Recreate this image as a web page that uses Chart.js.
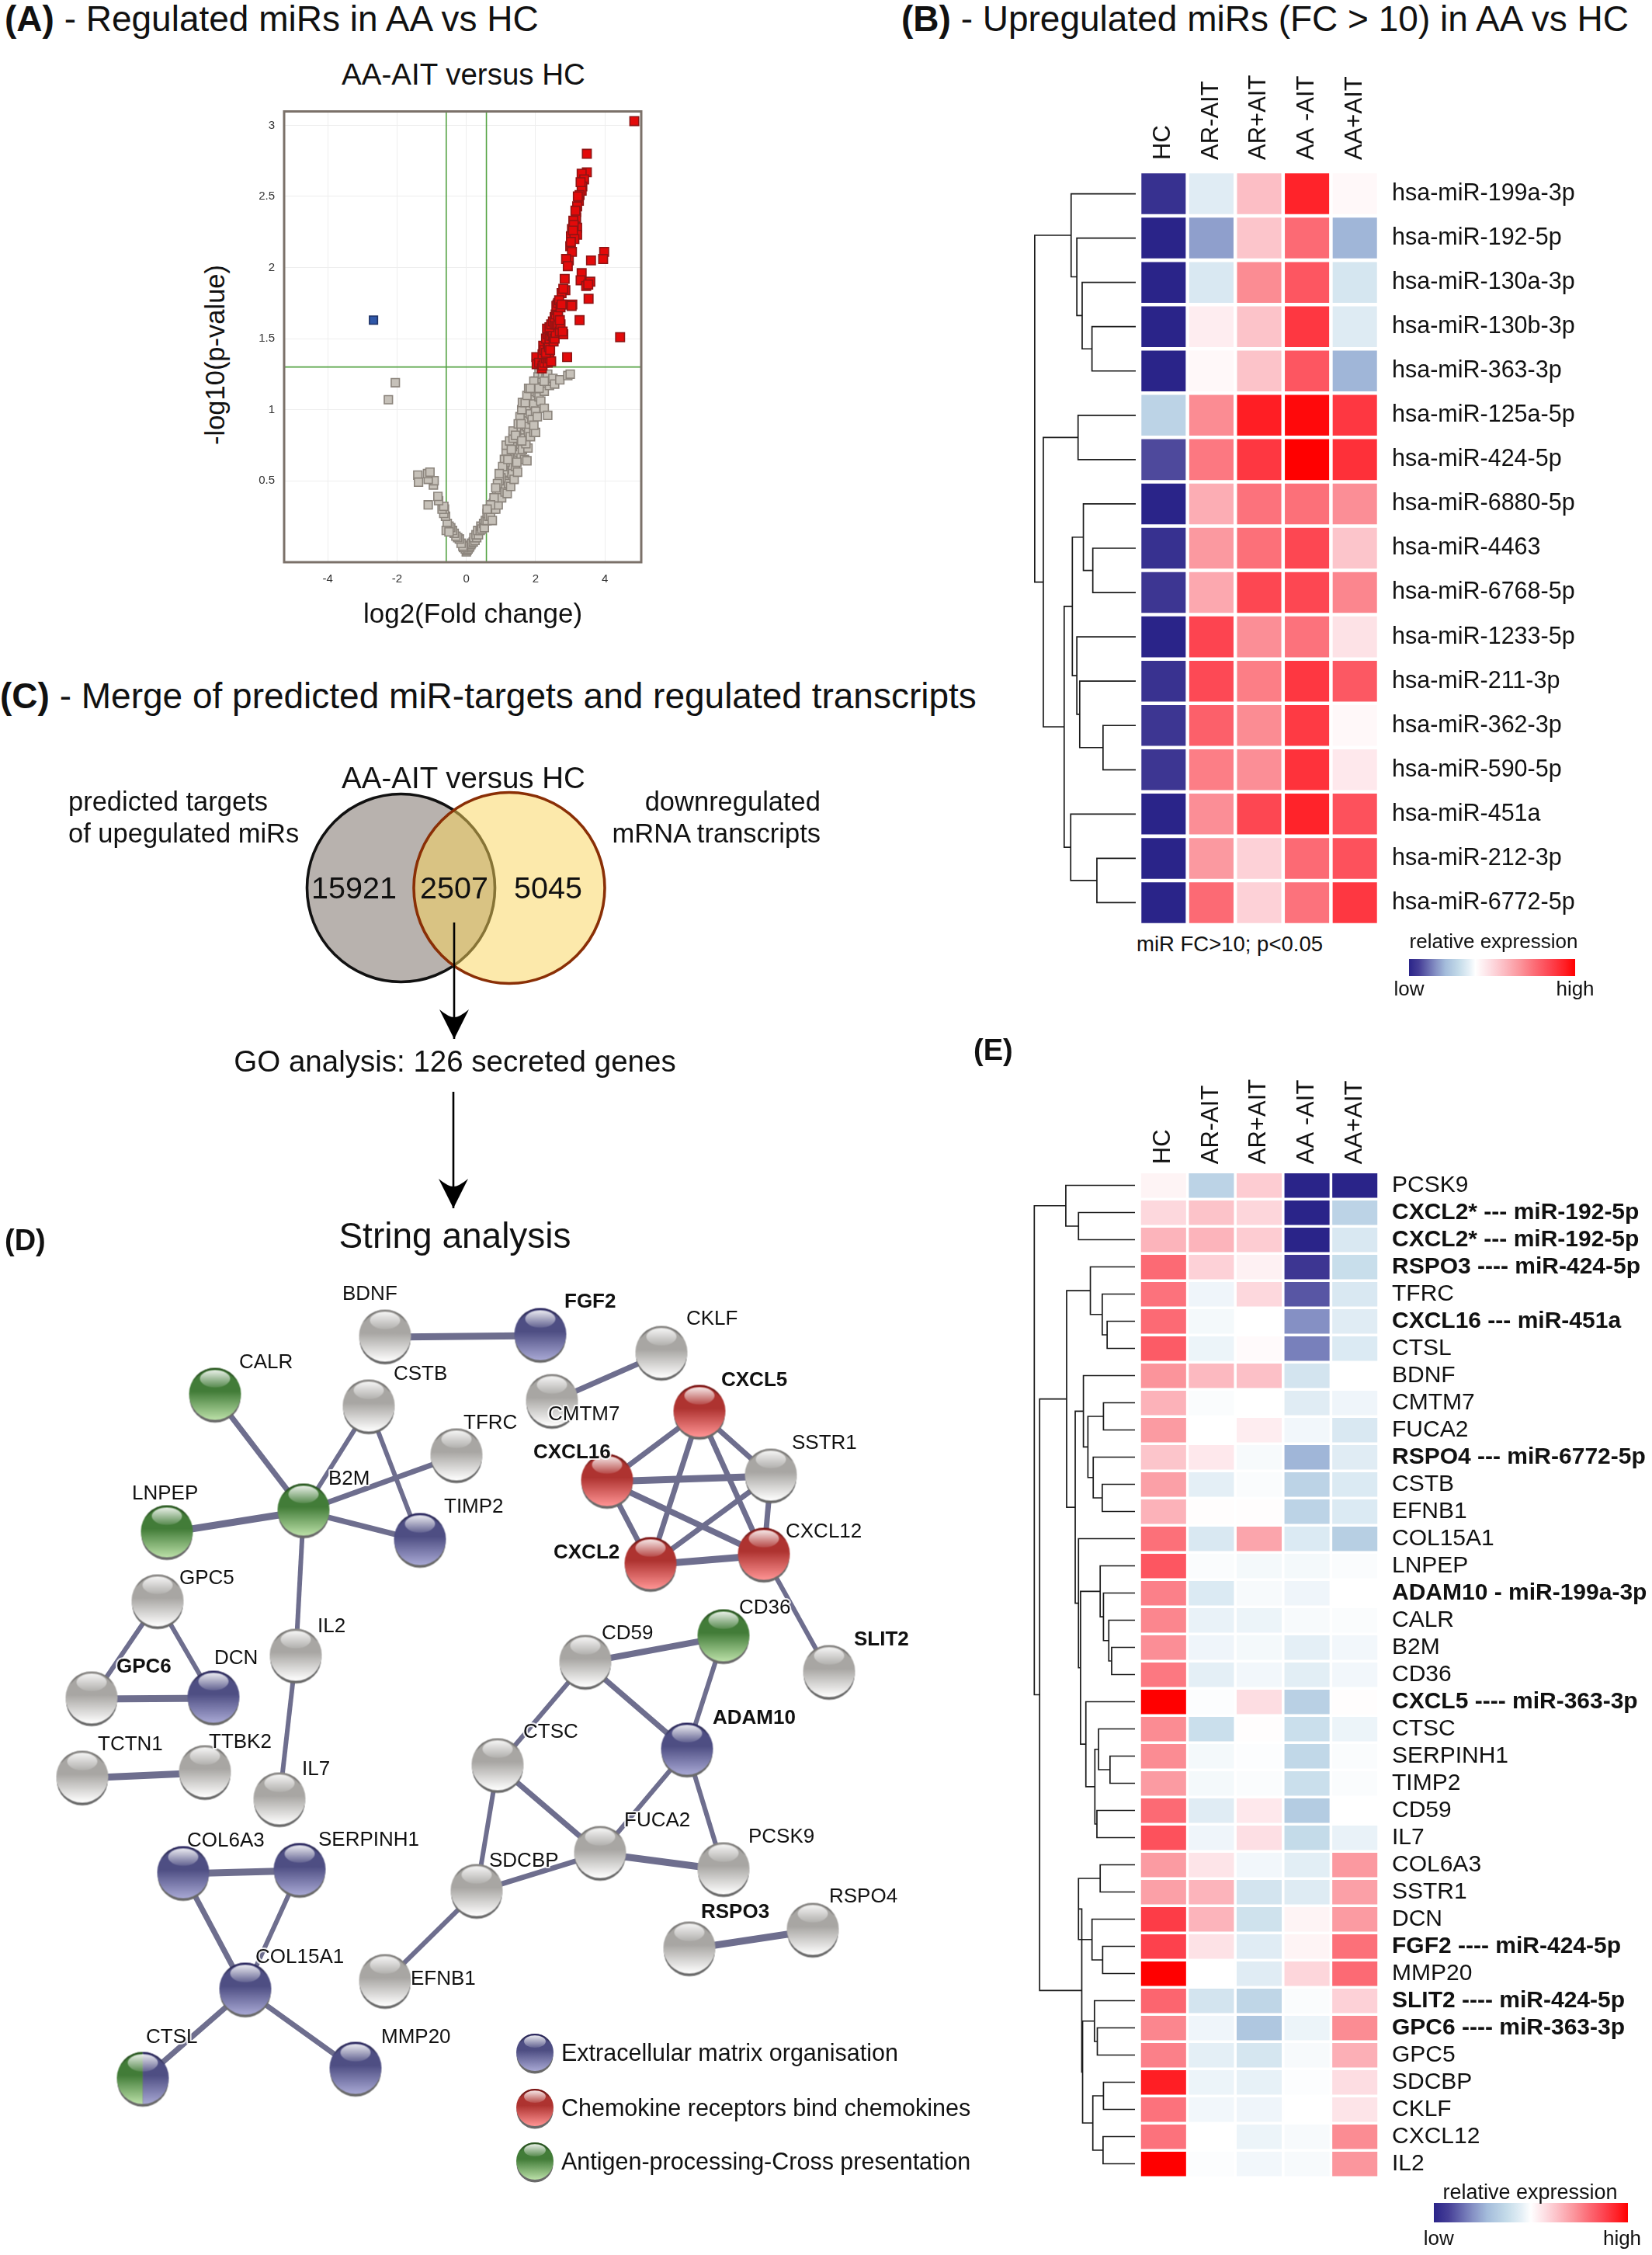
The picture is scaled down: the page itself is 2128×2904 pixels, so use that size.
<!DOCTYPE html>
<html>
<head>
<meta charset="utf-8">
<script src="https://cdn.jsdelivr.net/npm/chart.js@4"></script>
<style>
  html, body { margin: 0; background: #fff; }
  #page { position: relative; width: 2128px; height: 2904px; overflow: hidden; font-family: "Liberation Sans", Arial, sans-serif; color: #111; }
  #page canvas { position: absolute; }
  .txt { position: absolute; white-space: nowrap; line-height: 1; }
</style>
</head>
<body>
<div id="page"></div>
<script>
// ---- panel A: volcano plot, [log2 fold change, -log10 p]
const volcanoXTicks = [-4, -2, 0, 2, 4];
const volcanoYTicks = [0.5, 1, 1.5, 2, 2.5, 3];
const cutoffFold = [-0.58, 0.58];
const cutoffP = 1.3;
const downMirs = [[-2.68, 1.63]];
const upMirs = [
  [4.85,3.03],[3.48,2.80],[3.48,2.67],[3.33,2.66],[3.4,2.62],[3.35,2.57],[3.33,2.54],[3.27,2.51],[3.25,2.47],[3.2,2.43],
  [3.17,2.39],[3.17,2.35],[3.09,2.33],[3.05,2.27],[3.2,2.28],[3.2,2.23],[3.02,2.22],[3.0,2.15],[3.05,2.11],[2.96,2.05],
  [2.88,2.06],[2.93,2.01],[3.98,2.11],[3.95,2.06],[3.6,2.05],[3.33,1.96],[3.3,1.91],[3.58,1.90],[3.46,1.87],[3.52,1.88],
  [3.53,1.78],[2.84,1.92],[2.86,1.84],[2.75,1.82],[3.06,1.74],[3.04,1.73],[2.78,1.74],[2.63,1.74],[3.27,1.63],[4.44,1.51],
  [2.91,1.37],[2.02,1.37],[2.03,1.32],[2.1,1.33],[2.18,1.29],[2.2,1.31],[2.25,1.33],[2.3,1.36],[2.35,1.33],[2.4,1.36],
  [2.45,1.34],[2.2,1.39],[2.22,1.45],[2.25,1.42],[2.3,1.4],[2.35,1.47],[2.38,1.44],[2.42,1.42],[2.3,1.5],[2.35,1.53],
  [2.33,1.57],[2.4,1.5],[2.45,1.52],[2.47,1.55],[2.5,1.52],[2.52,1.48],[2.55,1.5],[2.58,1.54],[2.4,1.58],[2.45,1.6],
  [2.5,1.62],[2.55,1.6],[2.6,1.6],[2.65,1.6],[2.7,1.55],[2.72,1.6],[2.8,1.53],[2.78,1.55],[2.55,1.65],[2.58,1.67],
  [2.62,1.7],[2.65,1.66],[2.7,1.63],[2.6,1.73],[2.65,1.75],[2.68,1.77],[2.72,1.72],[2.75,1.74],[2.8,1.85],[3.1,2.3],
  [3.08,2.26],[3.12,2.2],[3.02,2.18],[3.15,2.4],[3.22,2.5],[3.3,2.6]
];
const otherMirs = [
  [0,0],[0.02,0.01],[-0.03,0.02],[0.05,0.02],[0.08,0.03],[0.1,0.04],[0.13,0.05],[0.15,0.06],[0.2,0.07],[0.25,0.08],
  [0.22,0.1],[0.3,0.1],[0.28,0.12],[0.35,0.12],[0.33,0.15],[0.4,0.15],[0.42,0.18],[0.45,0.16],[0.5,0.2],[0.52,0.17],
  [0.55,0.22],[0.6,0.22],[0.6,0.27],[0.65,0.25],[0.7,0.25],[0.68,0.3],[0.75,0.22],[0.8,0.3],[0.78,0.34],[0.85,0.3],
  [0.9,0.36],[0.88,0.4],[0.92,0.33],[1.0,0.45],[0.95,0.42],[1.02,0.38],[1.1,0.5],[1.05,0.47],[1.12,0.42],[1.18,0.41],
  [1.2,0.58],[1.15,0.55],[1.22,0.48],[1.28,0.46],[1.3,0.62],[1.25,0.6],[1.32,0.55],[1.38,0.51],[1.4,0.7],[1.35,0.66],
  [1.42,0.6],[1.48,0.56],[1.5,0.8],[1.45,0.75],[1.52,0.7],[1.58,0.66],[1.62,0.72],[1.68,0.65],[1.75,0.64],[1.78,0.73],
  [1.6,0.87],[1.55,0.83],[1.65,0.8],[1.72,0.76],[1.7,0.95],[1.66,0.92],[1.75,0.88],[1.8,0.84],[1.85,0.81],[1.95,0.84],
  [2.0,0.84],[1.8,1.03],[1.75,1.0],[1.85,0.97],[1.9,0.93],[1.95,0.89],[1.9,1.1],[1.86,1.07],[1.95,1.04],[2.0,0.99],
  [2.05,0.95],[2.0,1.2],[1.97,1.15],[2.05,1.12],[2.1,1.09],[2.15,1.06],[2.1,1.27],[2.07,1.23],[2.15,1.2],[2.2,1.16],
  [2.25,1.13],[2.2,1.25],[2.3,1.22],[2.35,1.25],[2.4,1.17],[2.45,1.2],[2.5,1.22],[2.55,1.18],[2.7,1.21],[2.93,1.24],
  [3.0,1.25],[2.25,1.01],[2.35,0.96],[1.1,0.58],[1.25,0.67],[1.33,0.74],[1.46,0.63],[1.2,0.7],[1.12,0.63],[1.08,0.56],
  [1.0,0.52],[0.95,0.5],[1.15,0.7],[1.1,0.65],[1.15,0.75],[1.25,0.78],[1.35,0.8],[1.45,0.85],[1.55,0.95],[1.6,1.0],
  [1.62,1.05],[1.7,1.05],[1.75,1.1],[1.8,1.15],[1.95,1.2],[1.05,0.6],[0.95,0.55],[0.9,0.48],[0.85,0.45],[0.8,0.38],
  [0.7,0.33],[0.6,0.3],[1.35,0.85],[1.42,0.82],[1.3,0.72],[1.5,0.9],[1.58,0.9],[1.85,1.15],[2.1,1.15],[2.25,1.2],
  [1.6,0.78],[1.2,0.65],[-0.08,0.03],[-0.1,0.04],[-0.15,0.06],[-0.2,0.09],[-0.25,0.1],[-0.3,0.11],[-0.35,0.13],[-0.4,0.15],
  [-0.45,0.17],[-0.5,0.18],[-0.55,0.2],[-0.58,0.15],[-0.6,0.25],[-0.65,0.27],[-0.63,0.3],[-0.7,0.3],[-0.65,0.32],[-0.5,0.14],
  [-0.8,0.36],[-0.82,0.39],[-1.1,0.33],[-0.95,0.47],[-0.93,0.5],[-1.1,0.51],[-1.12,0.55],[-1.05,0.56],[-1.4,0.54],[-1.38,0.49],
  [-2.05,1.19],[-2.25,1.07]
];

// ---- panel B: miR heatmap, relative expression from -1 (low) to 1 (high)
const groupNames = ["HC", "AR-AIT", "AR+AIT", "AA -AIT", "AA+AIT"];
const mirNames = ["hsa-miR-199a-3p", "hsa-miR-192-5p", "hsa-miR-130a-3p", "hsa-miR-130b-3p", "hsa-miR-363-3p",
  "hsa-miR-125a-5p", "hsa-miR-424-5p", "hsa-miR-6880-5p", "hsa-miR-4463", "hsa-miR-6768-5p", "hsa-miR-1233-5p",
  "hsa-miR-211-3p", "hsa-miR-362-3p", "hsa-miR-590-5p", "hsa-miR-451a", "hsa-miR-212-3p", "hsa-miR-6772-5p"];
const mirValues = [
  [-0.93,-0.12,0.28,0.88,0.03],
  [-1,-0.55,0.25,0.6,-0.47],
  [-1,-0.15,0.48,0.68,-0.17],
  [-1,0.08,0.26,0.8,-0.13],
  [-1,0.03,0.26,0.68,-0.47],
  [-0.3,0.48,0.9,0.97,0.8],
  [-0.82,0.55,0.8,1,0.83],
  [-1,0.35,0.57,0.58,0.47],
  [-0.93,0.43,0.58,0.74,0.25],
  [-0.9,0.37,0.74,0.74,0.5],
  [-1,0.75,0.47,0.57,0.13],
  [-0.92,0.73,0.53,0.8,0.67],
  [-0.9,0.64,0.48,0.79,0.03],
  [-0.9,0.53,0.47,0.82,0.1],
  [-1,0.47,0.74,0.88,0.7],
  [-1,0.43,0.2,0.6,0.7],
  [-1,0.6,0.2,0.57,0.8]
];
// clustering: [height, child, child], a plain number is a row
const mirTree = [2.47,
  [1.58, 0, [1.44, 1, [1.31, 2, [1.07, 3, 4]]]],
  [2.26,
    [1.41, 5, 6],
    [1.75,
      [1.55, [1.28, 7, [1.05, 8, 9]], [1.44, 10, [1.37, 11, [0.80, 12, 13]]]],
      [1.59, 14, [0.95, 15, 16]]]]];

// ---- panel E: transcript heatmap
const geneNames = ["PCSK9", "CXCL2* --- miR-192-5p", "CXCL2* --- miR-192-5p", "RSPO3 ---- miR-424-5p", "TFRC",
  "CXCL16 --- miR-451a", "CTSL", "BDNF", "CMTM7", "FUCA2", "RSPO4 --- miR-6772-5p", "CSTB", "EFNB1", "COL15A1", "LNPEP",
  "ADAM10 - miR-199a-3p", "CALR", "B2M", "CD36", "CXCL5 ---- miR-363-3p", "CTSC", "SERPINH1", "TIMP2", "CD59", "IL7",
  "COL6A3", "SSTR1", "DCN", "FGF2 ---- miR-424-5p", "MMP20", "SLIT2 ---- miR-424-5p", "GPC6 ---- miR-363-3p", "GPC5",
  "SDCBP", "CKLF", "CXCL12", "IL2"];
const geneValues = [
  [0.05,-0.3,0.22,-1,-1],
  [0.17,0.26,0.18,-1,-0.3],
  [0.32,0.32,0.22,-1,-0.15],
  [0.6,0.2,0.06,-0.9,-0.23],
  [0.57,-0.06,0.17,-0.78,-0.15],
  [0.6,-0.04,0,-0.6,-0.12],
  [0.66,-0.07,0.02,-0.65,-0.14],
  [0.45,0.3,0.27,-0.18,0],
  [0.33,-0.02,0,-0.12,-0.06],
  [0.42,0,0.08,-0.05,-0.15],
  [0.25,0.1,-0.03,-0.47,-0.12],
  [0.4,-0.1,-0.02,-0.3,-0.14],
  [0.33,0.01,0.01,-0.3,-0.14],
  [0.58,-0.15,0.38,-0.14,-0.33],
  [0.68,-0.02,-0.04,-0.04,-0.02],
  [0.52,-0.14,-0.03,-0.06,0],
  [0.5,-0.08,-0.07,-0.03,-0.02],
  [0.47,-0.06,-0.04,-0.1,-0.05],
  [0.55,-0.1,-0.05,-0.11,-0.05],
  [1,-0.01,0.15,-0.32,0.01],
  [0.48,-0.22,0.01,-0.22,-0.07],
  [0.48,-0.04,-0.01,-0.27,-0.02],
  [0.42,-0.04,-0.02,-0.22,-0.02],
  [0.6,-0.12,0.1,-0.35,0],
  [0.7,-0.06,0.14,-0.25,-0.08],
  [0.42,0.12,-0.05,-0.11,0.43],
  [0.4,0.32,-0.18,-0.13,0.4],
  [0.78,0.32,-0.2,0.05,0.42],
  [0.76,0.13,-0.12,0.05,0.58],
  [1,0,-0.12,0.18,0.6],
  [0.62,-0.18,-0.28,-0.02,0.2],
  [0.5,-0.06,-0.38,-0.07,0.48],
  [0.52,-0.1,-0.17,-0.03,0.34],
  [0.9,-0.07,-0.09,-0.01,0.15],
  [0.57,-0.05,-0.06,0,0.12],
  [0.57,0,-0.07,-0.03,0.48],
  [1,-0.01,-0.05,-0.03,0.44]
];
const boldGeneRows = [1, 2, 3, 5, 10, 15, 19, 28, 30, 31];
const geneTree = [2.46,
  [1.69, 0, [1.38, 1, 2]],
  [2.33,
    [1.67,
      [1.09, 3, [0.80, 4, [0.68, 5, 6]]],
      [1.46,
        [1.26, 7, [1.15, [0.77, 8, 9], [1.02, 10, [0.80, 11, 12]]]],
        [1.38, 13,
          [1.33,
            [0.85, 14, [0.77, 15, [0.64, 16, [0.57, 17, 18]]]],
            [1.2, 19, [0.98, [0.89, 20, [0.61, 21, 22]], [0.93, 23, 24]]]]]]],
    [1.30,
      [1.38, [0.85, 25, 26], [1.05, 27, [0.79, 28, 29]]],
      [1.28,
        [0.99, 30, [0.92, 31, 32]],
        [1.03, [0.77, 33, 34], [0.78, 35, 36]]]]]];

// ---- panel C: venn counts
const vennCounts = [15921, 2507, 5045];

// ---- panel D: STRING network, layout coordinates
const nodeNames = ["BDNF","FGF2","CKLF","CMTM7","CXCL5","CALR","CSTB","TFRC","SSTR1","CXCL16","B2M","LNPEP","TIMP2","CXCL2",
  "CXCL12","GPC5","CD36","IL2","CD59","SLIT2","GPC6","DCN","TCTN1","TTBK2","IL7","CTSC","ADAM10","FUCA2","COL6A3","SERPINH1",
  "PCSK9","SDCBP","RSPO3","RSPO4","COL15A1","EFNB1","CTSL","MMP20"];
const nodeX = [496,696,852,711,901,277,475,588,993,782,391,215,541,838,984,203,932,381,754,1068,118,275,106,264,360,641,885,773,236,386,932,614,888,1047,316,496,184,458];
const nodeY = [1722,1720,1743,1805,1819,1797,1812,1875,1901,1908,1946,1974,1984,2015,2003,2063,2108,2133,2141,2154,2188,2187,2290,2283,2318,2274,2254,2387,2413,2409,2408,2436,2510,2486,2563,2552,2678,2665];
const nodeGroups = ["g0","b","g0","g0","r","a","g0","g0","g0","r","a","a","b","r","r","g0","a","g0","g0","g0","g0","b","g0","g0","g0","g0","b","g0","b","b","g0","g0","g0","g0","b","g0","h","b"];
const labelX = [441,727,884,706,929,308,507,597,1020,687,423,170,572,713,1012,231,952,409,775,1100,150,276,126,269,389,674,918,804,241,410,964,630,903,1068,329,529,188,491];
const labelY = [1667,1677,1699,1822,1778,1755,1770,1833,1859,1871,1905,1924,1941,2000,1973,2033,2071,2095,2104,2112,2147,2136,2247,2244,2279,2231,2213,2345,2371,2370,2366,2397,2463,2443,2521,2549,2624,2624];
const boldNodes = ["FGF2","CXCL5","CXCL16","CXCL2","SLIT2","GPC6","ADAM10","RSPO3"];
const edges = [["BDNF","FGF2",9],["CKLF","CMTM7",7],["CXCL5","CXCL16",7],["CXCL5","SSTR1",7],["CXCL5","CXCL2",7],["CXCL5","CXCL12",7],
  ["CXCL16","SSTR1",9],["CXCL16","CXCL2",7],["CXCL16","CXCL12",8],["SSTR1","CXCL2",7],["SSTR1","CXCL12",7],["CXCL2","CXCL12",9],
  ["CXCL12","SLIT2",6],["CALR","B2M",7],["CSTB","B2M",6],["CSTB","TIMP2",6],["TFRC","B2M",7],["B2M","LNPEP",9],["B2M","TIMP2",7],
  ["B2M","IL2",6],["IL2","IL7",6],["GPC5","GPC6",6],["GPC5","DCN",6],["GPC6","DCN",9],["TCTN1","TTBK2",9],["CD59","CD36",8],
  ["CD36","ADAM10",6],["CD59","ADAM10",7],["CD59","CTSC",6],["CTSC","FUCA2",7],["CTSC","SDCBP",6],["ADAM10","FUCA2",6],
  ["ADAM10","PCSK9",6],["FUCA2","PCSK9",9],["FUCA2","SDCBP",7],["SDCBP","EFNB1",6],["RSPO3","RSPO4",9],["COL6A3","SERPINH1",9],
  ["COL6A3","COL15A1",7],["SERPINH1","COL15A1",6],["COL15A1","CTSL",7],["COL15A1","MMP20",7]];
const pathwayNames = ["Extracellular matrix organisation", "Chemokine receptors bind chemokines", "Antigen-processing-Cross presentation"];
const pathwayGroups = ["b", "r", "a"];

const FONT = '"Liberation Sans", Arial, sans-serif';
Chart.defaults.font.family = FONT;
Chart.defaults.color = "#111";
const page = document.getElementById("page");

function addCanvas(x, y, w, h) {
  const c = document.createElement("canvas");
  c.width = w; c.height = h;
  c.style.left = x + "px"; c.style.top = y + "px";
  c.style.width = w + "px"; c.style.height = h + "px";
  page.appendChild(c);
  return c;
}

function addText(html, x, y, size, align, rotate) {
  const d = document.createElement("div");
  d.className = "txt";
  d.innerHTML = html;
  d.style.left = x + "px"; d.style.top = y + "px";
  d.style.fontSize = size + "px";
  const shift = align === "left" ? "0" : align === "right" ? "-100%" : "-50%";
  d.style.transform = `translate(${shift}, -50%)` + (rotate ? ` rotate(${rotate}deg)` : "");
  page.appendChild(d);
}

const baseOptions = { responsive: false, animation: false, devicePixelRatio: 1, events: [] };
const baseLayout = { autoPadding: false };
// fixes an axis to a given size so the plot area lands where it should
function pin(size) {
  return s => {
    if (s.isHorizontal()) s.height = size; else s.width = size;
    s.paddingLeft = s.paddingRight = s.paddingTop = s.paddingBottom = 0;
  };
}

// colour scale shared by both heatmaps and colour bars
const heatStops = [[-1,"#2a2489"],[-0.85,"#463f97"],[-0.6,"#8590c4"],[-0.45,"#a4bcdb"],[-0.25,"#c4dbe9"],[-0.1,"#e4eff6"],[0,"#ffffff"],
  [0.15,"#fddde2"],[0.3,"#fcb9c0"],[0.45,"#fb949b"],[0.6,"#fc6a74"],[0.75,"#fd4450"],[0.9,"#ff1e24"],[1,"#ff0000"]];
function hex(h) { return [1, 3, 5].map(i => parseInt(h.substr(i, 2), 16)); }
function heatColour(v) {
  for (let i = 1; i < heatStops.length; i++) {
    if (v <= heatStops[i][0]) {
      const t = (v - heatStops[i-1][0]) / (heatStops[i][0] - heatStops[i-1][0]);
      const a = hex(heatStops[i-1][1]), b = hex(heatStops[i][1]);
      return `rgb(${a.map((c, k) => Math.round(c + (b[k] - c) * t)).join(",")})`;
    }
  }
  return "#ff0000";
}

// ---- panel A
const pointsOf = list => list.map(p => ({ x: p[0], y: p[1] }));
const xMin = -5.26, xMax = 5.05, yMin = -0.073, yMax = 3.098;
const greenLine = { type: "scatter", showLine: true, borderColor: "#55a344", borderWidth: 1.6, pointRadius: 0, order: 5 };
new Chart(addCanvas(300, 120, 540, 650), {
  type: "scatter",
  data: { datasets: [
    { ...greenLine, data: [{ x: cutoffFold[0], y: yMin }, { x: cutoffFold[0], y: yMax }] },
    { ...greenLine, data: [{ x: cutoffFold[1], y: yMin }, { x: cutoffFold[1], y: yMax }] },
    { ...greenLine, data: [{ x: xMin, y: cutoffP }, { x: xMax, y: cutoffP }] },
    { data: pointsOf(otherMirs), pointStyle: "rect", pointRadius: 7.5, backgroundColor: "#c6c1b9", borderColor: "#8b847c", borderWidth: 1.6, order: 3 },
    { data: pointsOf(upMirs), pointStyle: "rect", pointRadius: 8, backgroundColor: "#e30a0a", borderColor: "#8f1414", borderWidth: 1.6, order: 2 },
    { data: pointsOf(downMirs), pointStyle: "rect", pointRadius: 7.4, backgroundColor: "#2f57a8", borderColor: "#1f3265", borderWidth: 1.6, order: 1 }
  ] },
  options: { ...baseOptions,
    layout: { ...baseLayout, padding: { top: 23.5, right: 14 } },
    plugins: { legend: { display: false }, tooltip: { enabled: false } },
    scales: {
      x: { type: "linear", min: xMin, max: xMax, afterFit: pin(46),
        afterBuildTicks: s => { s.ticks = volcanoXTicks.map(v => ({ value: v })); },
        grid: { color: "#eeeeee", drawTicks: false }, border: { display: false },
        ticks: { font: { size: 15 }, color: "#333", padding: 13, maxRotation: 0, callback: v => String(v) } },
      y: { type: "linear", min: yMin, max: yMax, afterFit: pin(66),
        afterBuildTicks: s => { s.ticks = volcanoYTicks.map(v => ({ value: v })); },
        grid: { color: "#eeeeee", drawTicks: false }, border: { display: false },
        ticks: { font: { size: 15 }, color: "#333", padding: 12, callback: v => String(v) } }
    }
  },
  plugins: [{ id: "frame", afterDatasetsDraw(chart) {
    const a = chart.chartArea, c = chart.ctx;
    c.save(); c.strokeStyle = "#7b7169"; c.lineWidth = 3;
    c.strokeRect(a.left, a.top, a.right - a.left, a.bottom - a.top); c.restore();
  } }]
});

// ---- heatmaps
function heatmap(canvas, rows, values, opts) {
  const datasets = groupNames.map((g, col) => ({
    label: g,
    data: rows.map(() => 1),
    backgroundColor: values.map(r => heatColour(r[col])),
    borderColor: "#fff", borderWidth: opts.gap, borderSkipped: false,
    barPercentage: 1, categoryPercentage: 1
  }));
  return new Chart(canvas, {
    type: "bar",
    data: { labels: rows, datasets },
    options: { ...baseOptions, indexAxis: "y",
      layout: { ...baseLayout, padding: { left: opts.left, bottom: opts.bottom } },
      plugins: { legend: { display: false }, tooltip: { enabled: false } },
      scales: {
        x: { type: "linear", stacked: true, min: 0, max: 5, display: false },
        top: { type: "category", axis: "x", position: "top", labels: groupNames, offset: true, afterFit: pin(opts.top),
          grid: { display: false }, border: { display: false },
          ticks: { font: { size: 31 }, color: "#111", minRotation: 90, maxRotation: 90, padding: opts.headPad, labelOffset: 37, autoSkip: false } },
        y: { type: "category", stacked: true, position: "right", afterFit: pin(opts.right),
          grid: { display: false }, border: { display: false },
          ticks: { autoSkip: false, padding: 9, color: "#111", font: opts.font } }
      }
    }
  });
}
heatmap(addCanvas(1400, 60, 728, 1140), mirNames, mirValues,
  { gap: 2.6, left: 68, bottom: 9, top: 161, right: 352, headPad: 7, font: { size: 30.5 } });
heatmap(addCanvas(1400, 1340, 728, 1470), geneNames, geneValues,
  { gap: 2.1, left: 68, bottom: 5.8, top: 169.2, right: 352, headPad: 2,
    font: ctx => ({ size: 30, weight: boldGeneRows.includes(ctx.index) ? "bold" : "normal" }) });

// ---- dendrograms
function treeLines(node, out) {
  if (typeof node === "number") return { y: node, h: 0 };
  const a = treeLines(node[1], out), b = treeLines(node[2], out);
  out.push([{ x: a.h, y: a.y }, { x: node[0], y: a.y }, { x: node[0], y: b.y }, { x: b.h, y: b.y }]);
  return { y: (a.y + b.y) / 2, h: node[0] };
}
function dendrogram(canvas, tree, rowCount, maxHeight) {
  const branches = [];
  treeLines(tree, branches);
  new Chart(canvas, {
    type: "scatter",
    data: { datasets: branches.map(b => ({ data: b, showLine: true, borderColor: "#1a1a1a", borderWidth: 1.7, pointRadius: 0 })) },
    options: { ...baseOptions,
      layout: baseLayout,
      plugins: { legend: { display: false }, tooltip: { enabled: false } },
      scales: {
        x: { type: "linear", reverse: true, min: 0, max: maxHeight, display: false },
        y: { type: "linear", reverse: true, min: -0.5, max: rowCount - 0.5, display: false }
      }
    }
  });
}
dendrogram(addCanvas(1326, 221, 137, 970), mirTree, mirNames.length, 2.6);
dendrogram(addCanvas(1326, 1509, 136, 1295), geneTree, geneNames.length, 2.58);

// ---- colour bars
function colourBar(x, y, w, h, mid, tickValues, tickPad) {
  new Chart(addCanvas(x - 50, y, w + 100, h + 44), {
    type: "bar",
    data: { labels: [""], datasets: [{
      data: [[-1, 1]], barPercentage: 1, categoryPercentage: 1,
      backgroundColor(ctx) {
        const a = ctx.chart.chartArea;
        if (!a) return "#fff";
        const g = ctx.chart.ctx.createLinearGradient(a.left, 0, a.right, 0);
        heatStops.forEach(s => g.addColorStop(s[0] < 0 ? (s[0] + 1) * mid : mid + s[0] * (1 - mid), s[1]));
        return g;
      }
    }] },
    options: { ...baseOptions, indexAxis: "y",
      layout: { ...baseLayout, padding: { left: 50, right: 50 } },
      plugins: { legend: { display: false }, tooltip: { enabled: false } },
      scales: {
        x: { type: "linear", min: -1, max: 1, afterFit: pin(44), grid: { display: false }, border: { display: false },
          afterBuildTicks: s => { s.ticks = tickValues.map(v => ({ value: v })); },
          ticks: { font: { size: 26 }, color: "#111", padding: tickPad, maxRotation: 0, callback: v => (v < 0 ? "low" : "high") } },
        y: { display: false }
      }
    }
  });
}
colourBar(1815, 1235, 214, 22, 0.4, [-1, 1], -6);
colourBar(1847, 2837, 250, 25, 0.5, [-0.95, 0.94], -2);

// text layer inside a chart, placed through its scales
function textPlugin(items) {
  return { id: "textLayer", afterDatasetsDraw(chart) {
    const c = chart.ctx, sx = chart.scales.x, sy = chart.scales.y;
    c.save();
    items.forEach(t => {
      c.font = `${t.bold ? "bold " : ""}${t.size}px ${FONT}`;
      c.textAlign = t.align || "left";
      c.textBaseline = "middle";
      const px = sx.getPixelForValue(t.x), py = sy.getPixelForValue(t.y);
      if (t.halo) { c.strokeStyle = "rgba(255,255,255,0.85)"; c.lineWidth = 4; c.lineJoin = "round"; c.strokeText(t.text, px, py); }
      c.fillStyle = "#111";
      c.fillText(t.text, px, py);
    });
    c.restore();
  } };
}

// ---- panel C: venn and flow arrows (scale units are page pixels)
function arrowHead() {
  const c = document.createElement("canvas");
  c.width = 44; c.height = 84;
  const g = c.getContext("2d");
  g.fillStyle = "#000";
  g.beginPath();
  g.moveTo(22, 42); g.lineTo(3, 4); g.quadraticCurveTo(15, 14, 22, 14); g.quadraticCurveTo(29, 14, 41, 4);
  g.closePath(); g.fill();
  return c;
}
const head = arrowHead();
const arrowLine = { type: "scatter", showLine: true, borderColor: "#000", borderWidth: 2.6, pointRadius: [0, 5], pointStyle: head, order: 0 };
new Chart(addCanvas(0, 1000, 1270, 600), {
  type: "scatter",
  data: { datasets: [
    { ...arrowLine, data: [{ x: 585, y: 1188 }, { x: 585, y: 1338 }] },
    { ...arrowLine, data: [{ x: 584, y: 1406 }, { x: 584, y: 1556 }] },
    { type: "bubble", data: [{ x: 656, y: 1143.5, r: 123 }], backgroundColor: "rgba(250,212,90,0.51)", borderColor: "#8a2f06", borderWidth: 3.6, order: 1 },
    { type: "bubble", data: [{ x: 516.5, y: 1143.5, r: 121 }], backgroundColor: "#b8b2ae", borderColor: "#111", borderWidth: 3.6, order: 2 }
  ] },
  options: { ...baseOptions,
    layout: baseLayout,
    plugins: { legend: { display: false }, tooltip: { enabled: false } },
    scales: {
      x: { type: "linear", min: 0, max: 1270, display: false },
      y: { type: "linear", reverse: true, min: 1000, max: 1600, display: false }
    }
  },
  plugins: [textPlugin([
    { text: String(vennCounts[0]), x: 456, y: 1146, size: 39.5, align: "center" },
    { text: String(vennCounts[1]), x: 585, y: 1146, size: 39.5, align: "center" },
    { text: String(vennCounts[2]), x: 706, y: 1146, size: 39.5, align: "center" }
  ])]
});

// ---- panel D: spheres pre-rendered for the point style
const sphereColours = {
  g0: { rim: "#8f8d8b", top: "#a8a6a3", bottom: "#ffffff" },
  b: { rim: "#2a2560", top: "#4e4e83", bottom: "#a8a8d4" },
  r: { rim: "#7a1010", top: "#ae3330", bottom: "#ff9494" },
  a: { rim: "#2c5a22", top: "#427c38", bottom: "#bbe0a8" }
};
function paintSphere(g, cx, cy, r, col, clipSide) {
  g.save();
  g.beginPath();
  if (clipSide) g.rect(clipSide < 0 ? cx - r - 1 : cx, cy - r - 2, r + 1, 2 * r + 4);
  else g.rect(cx - r - 2, cy - r - 2, 2 * r + 4, 2 * r + 4);
  g.clip();
  const body = g.createLinearGradient(0, cy - r, 0, cy + r);
  body.addColorStop(0, col.top); body.addColorStop(0.45, col.top);
  body.addColorStop(1, col.bottom);
  g.fillStyle = body;
  g.beginPath(); g.arc(cx, cy, r, 0, Math.PI * 2); g.fill();
  const rim = g.createLinearGradient(0, cy - r, 0, cy - r * 0.5);
  rim.addColorStop(0, col.rim); rim.addColorStop(1, "rgba(0,0,0,0)");
  g.strokeStyle = rim; g.lineWidth = 2;
  g.beginPath(); g.arc(cx, cy, r - 1, 0, Math.PI * 2); g.stroke();
  g.restore();
}
function sphere(group, r) {
  const c = document.createElement("canvas");
  const pad = 6;
  c.width = 2 * r + pad * 2; c.height = 2 * r + pad * 2;
  const g = c.getContext("2d");
  const cx = c.width / 2, cy = c.height / 2 - 2;
  g.fillStyle = "#6a6a6a";
  g.beginPath(); g.arc(cx, cy + 4, r - 0.5, 0, Math.PI * 2); g.fill();
  if (group === "h") {
    paintSphere(g, cx, cy, r, sphereColours.a, -1);
    paintSphere(g, cx, cy, r, sphereColours.b, 1);
  } else {
    paintSphere(g, cx, cy, r, sphereColours[group]);
  }
  const hy = cy - r * 0.58;
  const gloss = g.createLinearGradient(0, hy - r * 0.33, 0, hy + r * 0.33);
  gloss.addColorStop(0, "rgba(255,255,255,0.88)"); gloss.addColorStop(1, "rgba(255,255,255,0.12)");
  g.fillStyle = gloss;
  g.beginPath(); g.ellipse(cx, hy, r * 0.58, r * 0.33, 0, 0, Math.PI * 2); g.fill();
  return c;
}
const spheres = {};
["g0", "b", "r", "a", "h"].forEach(k => { spheres[k] = sphere(k, 33.5); });
const legendSpheres = pathwayGroups.map(k => sphere(k, 24));
const legendX = pathwayNames.map(() => 689);
const legendY = [2645, 2716, 2785];

const edgeSets = edges.map(e => {
  const a = nodeNames.indexOf(e[0]), b = nodeNames.indexOf(e[1]);
  return { type: "scatter", showLine: true, pointRadius: 0, borderColor: "#6e6e8e", borderWidth: e[2], order: 3,
    data: [{ x: nodeX[a], y: nodeY[a] }, { x: nodeX[b], y: nodeY[b] }] };
});
const nodeLabels = nodeNames.map((n, i) => ({
  text: n, x: labelX[i], y: labelY[i], size: 26, bold: boldNodes.includes(n), halo: true
}));
const pathwayLabels = pathwayNames.map((n, i) => ({ text: n, x: 723, y: legendY[i] + 1, size: 30.5 }));
new Chart(addCanvas(0, 1620, 1270, 1280), {
  type: "scatter",
  data: { datasets: [
    ...edgeSets,
    { data: nodeNames.map((n, i) => ({ x: nodeX[i], y: nodeY[i] })), pointRadius: 10, pointStyle: nodeGroups.map(g => spheres[g]), order: 1 },
    { data: legendX.map((x, i) => ({ x, y: legendY[i] })), pointRadius: 10, pointStyle: legendSpheres, order: 1 }
  ] },
  options: { ...baseOptions,
    layout: baseLayout,
    plugins: { legend: { display: false }, tooltip: { enabled: false } },
    scales: {
      x: { type: "linear", min: 0, max: 1270, display: false },
      y: { type: "linear", reverse: true, min: 1620, max: 2900, display: false }
    }
  },
  plugins: [textPlugin(nodeLabels.concat(pathwayLabels))]
});

// ---- headings and free text
addText("<b>(A)</b> - Regulated miRs in AA vs HC", 6, 24, 46, "left");
addText("<b>(B)</b> - Upregulated miRs (FC &gt; 10) in AA vs HC", 1161, 24, 46, "left");
addText("<b>(C)</b> - Merge of predicted miR-targets and regulated transcripts", 0, 896, 46, "left");
addText("<b>(D)</b>", 6, 1597, 38, "left");
addText("<b>(E)</b>", 1254, 1352, 38, "left");
addText("AA-AIT versus HC", 597, 96, 38.5);
addText("log2(Fold change)", 609, 789, 35);
addText("-log10(p-value)", 277, 457, 34.5, "center", -90);
addText("AA-AIT versus HC", 597, 1002, 38.5);
addText("predicted targets", 88, 1032, 34.5, "left");
addText("of upegulated miRs", 88, 1073, 34.5, "left");
addText("downregulated", 1057, 1032, 34.5, "right");
addText("mRNA transcripts", 1057, 1073, 34.5, "right");
addText("GO analysis: 126 secreted genes", 586, 1367, 38.5);
addText("String analysis", 586, 1591, 46);
addText("miR FC&gt;10; p&lt;0.05", 1464, 1216, 27.5, "left");
addText("relative expression", 1924, 1212, 26);
addText("relative expression", 1971, 2823, 27);
</script>
</body>
</html>
